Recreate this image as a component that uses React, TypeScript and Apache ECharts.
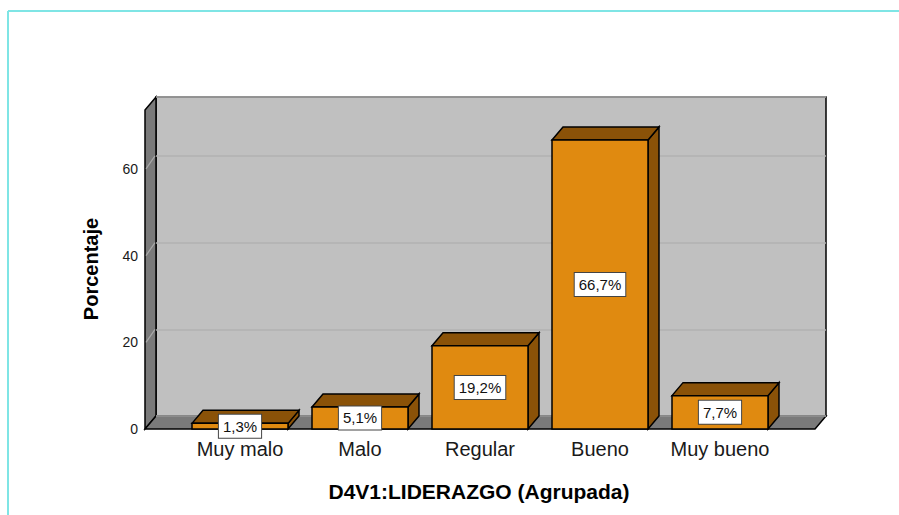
import React, { useEffect, useRef } from "react";
import * as echarts from "echarts";

const categories = ["Muy malo", "Malo", "Regular", "Bueno", "Muy bueno"];
const percentages = [1.3, 5.1, 19.2, 66.7, 7.7];
const yTicks = [0, 20, 40, 60];
const xTitle = "D4V1:LIDERAZGO (Agrupada)";
const yTitle = "Porcentaje";

const FONT = "'Liberation Sans', Arial, sans-serif";
const FL = 145, FR = 815, FT = 110, FB = 429, DX = 11, DY = 13;
const YMAX = 73.6;
const FRONT = "#E08A10";
const DARK = "#8A5208";

function fmt(v: number) {
  return v.toFixed(1).replace(".", ",") + "%";
}

export default function App() {
  const ref = useRef<HTMLDivElement>(null);
  useEffect(() => {
    const chart = echarts.init(ref.current!, null, { renderer: "svg" });
    const baseGraphic: any[] = [
      { type: "line", z: 0, shape: { x1: 8, y1: 11, x2: 899, y2: 11 }, style: { stroke: "#7FE5E5", lineWidth: 2 } },
      { type: "line", z: 0, shape: { x1: 8, y1: 11, x2: 8, y2: 515 }, style: { stroke: "#7FE5E5", lineWidth: 2 } },
      {
        type: "polygon", z: 0,
        shape: { points: [[FL, FT], [FL + DX, FT - DY], [FL + DX, FB - DY], [FL, FB]] },
        style: { fill: "#7A7A7A", stroke: "#000", lineWidth: 1.5 },
      },
      {
        type: "polygon", z: 0,
        shape: { points: [[FL, FB], [FL + DX, FB - DY], [FR + DX, FB - DY], [FR, FB]] },
        style: { fill: "#7A7A7A", stroke: "#000", lineWidth: 1.5 },
      },
      {
        type: "text", z: 5, x: 479, y: 491,
        style: { text: xTitle, fontFamily: FONT, fontSize: 21, fontWeight: "bold", fill: "#000", align: "center", verticalAlign: "middle" },
      },
      {
        type: "text", z: 5, x: 91, y: 269, rotation: Math.PI / 2,
        style: { text: yTitle, fontFamily: FONT, fontSize: 20, fontWeight: "bold", fill: "#000", align: "center", verticalAlign: "middle" },
      },
    ];
    const option: any = {
      animation: false,
      grid: [
        { left: 180, top: FT, width: 600, height: FB - FT, show: false },
        {
          left: FL + DX, top: FT - DY, width: FR - FL, height: FB - FT, show: true,
          backgroundColor: "#C0C0C0", borderColor: "#000", borderWidth: 1.5,
        },
      ],
      xAxis: [
        {
          type: "category", gridIndex: 0, data: categories,
          axisLine: { show: false }, axisTick: { show: false },
          axisLabel: { interval: 0, fontFamily: FONT, fontSize: 20, color: "#1A1A1A", margin: 10 },
        },
        { type: "value", gridIndex: 1, show: false, min: 0, max: 1 },
      ],
      yAxis: [
        {
          type: "value", gridIndex: 0, min: 0, max: YMAX, interval: 20, offset: 35,
          axisLine: { show: false }, axisTick: { show: false }, splitLine: { show: false },
          axisLabel: {
            fontFamily: FONT, fontSize: 14, color: "#1A1A1A", margin: 7, showMaxLabel: false,
            formatter: (v: number) => (yTicks.includes(v) ? String(v) : ""),
          },
        },
        {
          type: "value", gridIndex: 1, min: 0, max: YMAX, interval: 20,
          axisLine: { show: false }, axisTick: { show: false }, axisLabel: { show: false },
          splitLine: { show: true, lineStyle: { color: "#B2B2B2", width: 1.5 } },
        },
      ],
      graphic: baseGraphic,
      series: [
        {
          type: "custom", xAxisIndex: 0, yAxisIndex: 0, z: 10,
          data: categories.map((c, i) => [i, percentages[i]]),
          encode: { x: 0, y: 1 },
          renderItem: (params: any, api: any) => {
            const i = api.value(0);
            const v = api.value(1);
            const top = api.coord([i, v]);
            const base = api.coord([i, 0]);
            const w = api.size([1, 0])[0] * 0.8;
            const x0 = top[0] - w / 2, x1 = top[0] + w / 2;
            const yt = top[1], yb = base[1];
            const st = { stroke: "#000", lineWidth: 1.5 };
            return {
              type: "group",
              children: [
                { type: "polygon", shape: { points: [[x1, yt], [x1 + DX, yt - DY], [x1 + DX, yb - DY], [x1, yb]] }, style: { fill: DARK, ...st } },
                { type: "polygon", shape: { points: [[x0, yt], [x0 + DX, yt - DY], [x1 + DX, yt - DY], [x1, yt]] }, style: { fill: DARK, ...st } },
                { type: "rect", shape: { x: x0, y: yt, width: w, height: yb - yt }, style: { fill: FRONT, ...st } },
                {
                  type: "text", x: top[0], y: (yt + yb) / 2, z2: 20,
                  style: {
                    text: fmt(v), fontFamily: FONT, fontSize: 15, fill: "#111",
                    align: "center", verticalAlign: "middle",
                    backgroundColor: "#FFFFFF", borderColor: "#444", borderWidth: 1, padding: [4, 4],
                  },
                },
              ],
            };
          },
        },
      ],
    };
    chart.setOption(option);
    const diag = yTicks.filter((t) => t > 0).map((t) => {
      const yf = chart.convertToPixel({ yAxisIndex: 0 }, t) as number;
      const yb = chart.convertToPixel({ yAxisIndex: 1 }, t) as number;
      return { type: "line", z: 1, shape: { x1: FL + 1, y1: yf, x2: FL + DX - 1, y2: yb }, style: { stroke: "#A8A8A8", lineWidth: 1.2 } };
    });
    chart.setOption({ graphic: [...baseGraphic, ...diag] });
    return () => chart.dispose();
  }, []);
  return <div ref={ref} style={{ position: "absolute", left: 0, top: 0, width: 899, height: 515 }} />;
}
